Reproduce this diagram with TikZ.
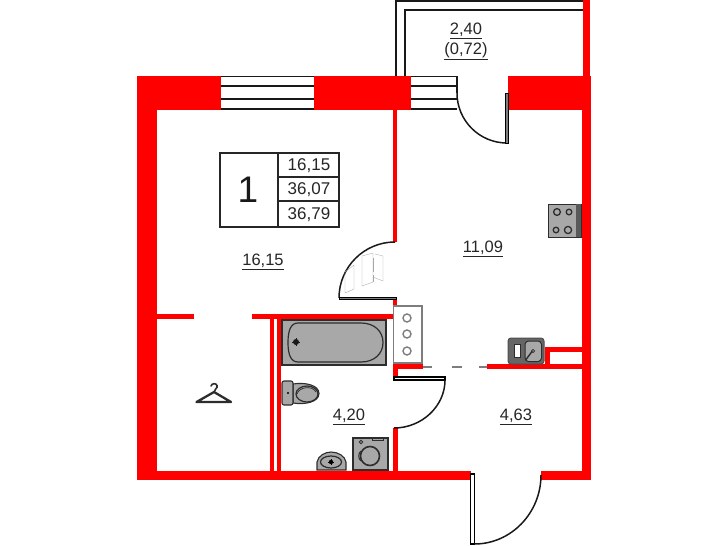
\documentclass[tikz,border=0pt]{standalone}
\usepackage{fontspec}
\setmainfont{Liberation Sans}
\definecolor{wallred}{RGB}{255,0,0}
\definecolor{fixt}{RGB}{168,168,168}
\definecolor{dk}{RGB}{45,45,45}
\definecolor{shaftgrey}{RGB}{125,125,125}
\tikzset{
  wall/.style={fill=wallred,draw=none},
  thinline/.style={draw=black!90,line width=1.3pt},
  arcline/.style={draw=black!90,line width=1.5pt},
  fixture/.style={fill=fixt,draw=dk,line width=1.1pt},
  detail/.style={draw=dk,line width=1.2pt},
  ghost/.style={draw=black!35,line width=0.35pt},
  lab/.style={font=\fontsize{17}{19}\selectfont,text=black!85,inner sep=0pt},
  rlab/.style={font=\fontsize{16.5}{19}\selectfont,text=black!85,inner sep=0pt},
}
\newcommand{\ul}[1]{\underline{#1}}
\begin{document}
\begin{tikzpicture}[x=1pt,y=-1pt]
\useasboundingbox (0,0) rectangle (728,546);
% walls
\fill[wall] (137,76) rectangle (221,110);
\fill[wall] (314,76) rectangle (411,110);
\fill[wall] (508,76) rectangle (591,110);
\fill[wall] (137,110) rectangle (157,480);
\fill[wall] (582,110) rectangle (591,480);
\fill[wall] (583,0) rectangle (590,76);
\fill[wall] (137,471) rectangle (471,480);
\fill[wall] (541,471) rectangle (591,480);
\fill[wall] (393,110) rectangle (397,242);
\fill[wall] (157,314) rectangle (194,319);
\fill[wall] (252,314) rectangle (393,319);
\fill[wall] (393,299) rectangle (397,306);
\fill[wall] (270,319) rectangle (274,471);
\fill[wall] (277,319) rectangle (281,471);
\fill[wall] (393,364) rectangle (423,369);
\fill[wall] (393,364) rectangle (398,377);
\fill[wall] (393,428) rectangle (398,471);
\fill[wall] (487,364) rectangle (582,369);
\fill[wall] (545,347) rectangle (550,364);
\fill[wall] (545,347) rectangle (582,352);
% balcony
\draw[thinline] (396,76) -- (396,1) -- (583,1);
\draw[thinline] (405,76) -- (405,10) -- (583,10);
% windows
\foreach \yy in {76.5,86,99,109}{
  \draw[thinline] (221,\yy) -- (314,\yy);
  \draw[thinline] (411,\yy) -- (457,\yy);
}
\draw[thinline] (457,76) -- (457,93);
% balcony door
\draw[arcline] (457,93) .. controls (457,120.6) and (479.4,143) .. (507,143);
\draw[line width=1pt,fill=shaftgrey,draw=black] (505.5,93) rectangle (508,143);
% room door
\draw[arcline] (395,242) .. controls (364.1,242) and (339,267.1) .. (339,298);
\draw[line width=1pt,fill=shaftgrey,draw=black] (339,297) rectangle (396,299.5);
\draw[ghost] (345,293) -- (354,289) -- (354,265) -- (345,272) -- cycle;
\draw[ghost] (362,286) -- (373,282) -- (373,253) -- (362,256) -- cycle;
\draw[ghost] (373,277) -- (383,281) -- (383,256) -- (375,254);
\draw[ghost] (373.5,258) -- (373.5,272) (373.5,275) -- (373.5,282);
% bath door
\draw[line width=1.1pt,draw=black,fill=white] (394,377) rectangle (445,380);
\draw[arcline] (445,380) .. controls (445,406.5) and (421.5,428) .. (394,428);
% entry door
\draw[line width=1.1pt,draw=black,fill=white] (470.5,474) rectangle (474.5,544);
\draw[arcline] (474.5,544) .. controls (511,544) and (541,513) .. (541,475);
% shaft
\draw[draw=shaftgrey,line width=1.4pt] (393.5,306) rectangle (422,363);
\foreach \yy in {318,334,351}{\draw[draw=shaftgrey,line width=1.4pt] (407,\yy) circle[radius=4];}
% partition dashed
\draw[draw=shaftgrey,line width=1.2pt] (423,367) -- (432,367) (452,367) -- (462,367) (479,367) -- (487,367);
% bath
\draw[fixture] (282,320) rectangle (386,365);
\draw[detail] (298,323) -- (361,323) .. controls (374,323) and (383,331) .. (383,342.5) .. controls (383,354) and (374,362) .. (361,362) -- (298,362)
  .. controls (291,362) and (288,355) .. (288,342.5) .. controls (288,330) and (291,323) .. (298,323) -- cycle;
\fill[black!90] (296,342) circle[radius=3];
\draw[black!90,line width=0.8pt] (292,342) -- (300,342) (296,338) -- (296,346);
% toilet
\draw[fixture] (293,384) .. controls (305,382) and (319,385) .. (319,393.5) .. controls (319,402) and (305,405) .. (293,403) -- cycle;
\draw[fixture,rounded corners=2pt] (282,381) rectangle (293,405);
\draw[detail] (307,394) ellipse[x radius=11,y radius=8];
\draw[detail,line width=0.7pt] (297,394) .. controls (299,387) and (312,385) .. (316,392);
\fill[black] (288,393) circle[radius=1.2];
% bathroom sink
\draw[fixture] (317,470) -- (317,462) .. controls (318,456) and (325,452) .. (331,452) .. controls (338,452) and (345,456) .. (346,462) -- (346,470) -- cycle;
\draw[detail] (331,462) ellipse[x radius=10.5,y radius=6];
\fill[black] (331,462) circle[radius=2.2];
\draw[black,line width=0.5pt] (328,462) -- (334,462) (331,459) -- (331,465);
% washer
\draw[fixture] (353,438) rectangle (388,470);
\draw[detail,line width=1.6pt] (370,456) circle[radius=9.5];
\draw[detail,line width=1pt] (361,451) .. controls (358,453) and (358,459) .. (361,461);
\draw[detail,line width=0.8pt] (361,442) circle[radius=1.8];
\draw[detail,line width=0.8pt] (372,437.5) rectangle (383,440.5);
% hanger
\draw[dk,line width=2.3pt,line join=round,line cap=round] (214,392) -- (196.5,402) -- (231,402) -- (214,392);
\draw[dk,line width=1.6pt,line cap=round] (214,392) .. controls (214,389) and (218,388.5) .. (217,385.5) .. controls (216,383) and (212,383) .. (211,386);
% hob
\draw[fixture,line width=1pt] (548,204) rectangle (581,237);
\fill[black!65] (576,204) rectangle (581,237);
\foreach \xx/\yy/\rr in {557/212/3.4,569/212/2.8,556/230/2.8,568/230/3.6}{
  \draw[dk,line width=1.3pt] (\xx,\yy) circle[radius=\rr];
}
% kitchen sink
\draw[fill=black!60,draw=black!70,line width=1pt,rounded corners=3pt] (508,338) rectangle (544,364);
\draw[fill=fixt,draw=dk,line width=1pt,rounded corners=3.5pt] (525,341) rectangle (541.5,361.5);
\draw[fill=white,draw=dk,line width=0.9pt] (514,344.5) rectangle (520.5,357);
\draw[dk,line width=1.4pt,line cap=round] (526,359.5) -- (532,351.5);
\draw[dk,line width=0.7pt] (533,351) circle[radius=1.6];
% legend
\draw[draw=black!85,line width=1.3pt,fill=white] (220,153) rectangle (339,227);
\draw[draw=black!85,line width=1.3pt] (278,153) -- (278,227) (278,177) -- (339,177) (278,201) -- (339,201);
\node[font=\fontsize{37}{40}\selectfont,inner sep=0pt,text=black!90] (nlegend) at (248,190) {1};
\node[lab] (leg1) at (309,166) {16,15};
\node[lab] (leg2) at (309,190) {36,07};
\node[lab] (leg3) at (309,214.5) {36,79};
% labels
\node[rlab] (r1) at (263,262) {\ul{16,15}};
\node[rlab] (r2) at (483,249) {\ul{11,09}};
\node[rlab] (r3) at (349,417) {\ul{4,20}};
\node[rlab] (r4) at (516,417) {\ul{4,63}};
\node[rlab] (r5) at (466,31) {\ul{2,40}};
\node[rlab] (r6) at (466,51) {\ul{(0,72)}};
\end{tikzpicture}
\end{document}
